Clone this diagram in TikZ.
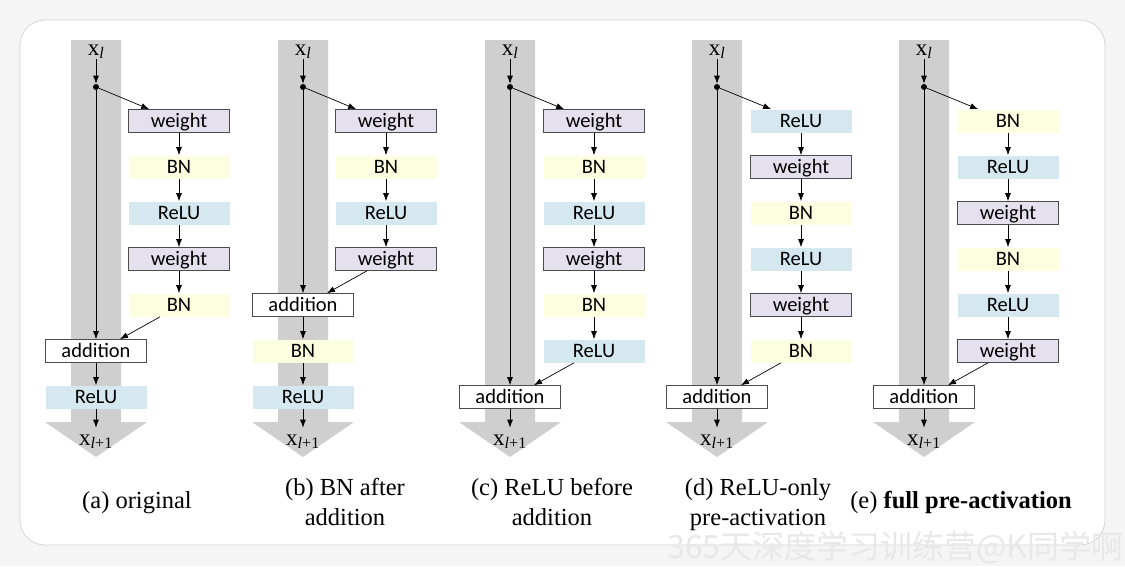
\documentclass[tikz,border=0pt]{standalone}
\usepackage{fontspec}
\setmainfont{Liberation Serif}
\newfontfamily\boxfont{Carlito}
\newfontfamily\cjkfont{Noto Sans CJK SC}
\usetikzlibrary{arrows.meta}
\definecolor{wtfill}{HTML}{E5E0EE}
\definecolor{bnfill}{HTML}{FDFDE0}
\definecolor{relufill}{HTML}{D6E8EF}
\definecolor{bandgray}{HTML}{CFCFCF}
\tikzset{
  blk/.style={minimum width=101pt, minimum height=23pt, inner sep=0pt,
    text height=16.5pt, text depth=3.5pt,
    font=\boxfont\fontsize{20.5}{20.5}\selectfont},
  wt/.style={blk, fill=wtfill, draw=black!70},
  bn/.style={blk, fill=bnfill},
  relu/.style={blk, fill=relufill},
  add/.style={blk, fill=white, draw=black!70},
  lbl/.style={anchor=base, inner sep=0pt, text height=17pt, text depth=4pt,
    font=\fontsize{23}{23}\selectfont},
  capt/.style={align=center, font=\fontsize{24.5}{30}\selectfont},
  dot/.style={circle, fill=black, inner sep=0pt, minimum size=6pt},
}
\begin{document}
\begin{tikzpicture}[x=1pt, y=-1pt, >={Latex[length=8pt,width=6pt]}, line width=0.7pt]
  \useasboundingbox (0,0) rectangle (1125,566);
  \fill[gray!8] (0,0) rectangle (1125,566);
  \draw[gray!35, fill=white, rounded corners=25pt] (20,20) rectangle (1105,545);
  \node[anchor=base west, inner sep=0pt, text=gray!18,
    font=\cjkfont\fontsize{32}{32}\selectfont] (wm) at (667,558) {365天深度学习训练营@K同学啊};

  % grey identity paths
  \foreach \c in {96,303,510,717,924}
    \fill[bandgray] (\c-25,40) rectangle (\c+25,422)
      (\c-51,422) -- (\c+51,422) -- (\c,457) -- cycle;

  % (a) original
  \node[lbl] (xa) at (96,55) {x\textsubscript{\textit{l}}};
  \node[dot] (da) at (96,87) {};
  \node[wt] (a1) at (179,121) {weight};
  \node[bn] (a2) at (179,167) {BN};
  \node[relu] (a3) at (179,213) {ReLU};
  \node[wt] (a4) at (179,259) {weight};
  \node[bn] (a5) at (179,305) {BN};
  \node[add] (a6) at (96,351) {addition};
  \node[relu] (a7) at (96,397) {ReLU};
  \node[lbl] (ya) at (96,445) {x\textsubscript{\textit{l}+1}};
  \draw[->] (xa) -- (da);
  \draw[->] (da) -- (a6);
  \draw[->] (da) -- ([xshift=21pt]a1.north west);
  \draw[->] (a1) -- (a2);
  \draw[->] (a2) -- (a3);
  \draw[->] (a3) -- (a4);
  \draw[->] (a4) -- (a5);
  \draw[->] ([xshift=-19pt]a5.south) -- ([xshift=24pt]a6.north);
  \draw[->] (a6) -- (a7);
  \draw[->] (a7) -- (ya);
  \node[capt] (ca) at (137,503) {(a) original};

  % (b) BN after addition
  \node[lbl] (xb) at (303,55) {x\textsubscript{\textit{l}}};
  \node[dot] (db) at (303,87) {};
  \node[wt] (b1) at (386,121) {weight};
  \node[bn] (b2) at (386,167) {BN};
  \node[relu] (b3) at (386,213) {ReLU};
  \node[wt] (b4) at (386,259) {weight};
  \node[add] (b5) at (303,305) {addition};
  \node[bn] (b6) at (303,351) {BN};
  \node[relu] (b7) at (303,397) {ReLU};
  \node[lbl] (yb) at (303,445) {x\textsubscript{\textit{l}+1}};
  \draw[->] (xb) -- (db);
  \draw[->] (db) -- (b5);
  \draw[->] (db) -- ([xshift=21pt]b1.north west);
  \draw[->] (b1) -- (b2);
  \draw[->] (b2) -- (b3);
  \draw[->] (b3) -- (b4);
  \draw[->] ([xshift=-19pt]b4.south) -- ([xshift=24pt]b5.north);
  \draw[->] (b5) -- (b6);
  \draw[->] (b6) -- (b7);
  \draw[->] (b7) -- (yb);
  \node[capt] (cb) at (345,502) {(b) BN after\\addition};

  % (c) ReLU before addition
  \node[lbl] (xc) at (510,55) {x\textsubscript{\textit{l}}};
  \node[dot] (dc) at (510,87) {};
  \node[wt] (c1) at (594,121) {weight};
  \node[bn] (c2) at (594,167) {BN};
  \node[relu] (c3) at (594,213) {ReLU};
  \node[wt] (c4) at (594,259) {weight};
  \node[bn] (c5) at (594,305) {BN};
  \node[relu] (c6) at (594,351) {ReLU};
  \node[add] (c7) at (510,397) {addition};
  \node[lbl] (yc) at (510,445) {x\textsubscript{\textit{l}+1}};
  \draw[->] (xc) -- (dc);
  \draw[->] (dc) -- (c7);
  \draw[->] (dc) -- ([xshift=21pt]c1.north west);
  \draw[->] (c1) -- (c2);
  \draw[->] (c2) -- (c3);
  \draw[->] (c3) -- (c4);
  \draw[->] (c4) -- (c5);
  \draw[->] (c5) -- (c6);
  \draw[->] ([xshift=-20pt]c6.south) -- ([xshift=24pt]c7.north);
  \draw[->] (c7) -- (yc);
  \node[capt] (cc) at (552,502) {(c) ReLU before\\addition};

  % (d) ReLU-only pre-activation
  \node[lbl] (xd) at (717,55) {x\textsubscript{\textit{l}}};
  \node[dot] (dd) at (717,87) {};
  \node[relu] (d1) at (801,121) {ReLU};
  \node[wt] (d2) at (801,167) {weight};
  \node[bn] (d3) at (801,213) {BN};
  \node[relu] (d4) at (801,259) {ReLU};
  \node[wt] (d5) at (801,305) {weight};
  \node[bn] (d6) at (801,351) {BN};
  \node[add] (d7) at (717,397) {addition};
  \node[lbl] (yd) at (717,445) {x\textsubscript{\textit{l}+1}};
  \draw[->] (xd) -- (dd);
  \draw[->] (dd) -- (d7);
  \draw[->] (dd) -- ([xshift=21pt]d1.north west);
  \draw[->] (d1) -- (d2);
  \draw[->] (d2) -- (d3);
  \draw[->] (d3) -- (d4);
  \draw[->] (d4) -- (d5);
  \draw[->] (d5) -- (d6);
  \draw[->] ([xshift=-20pt]d6.south) -- ([xshift=24pt]d7.north);
  \draw[->] (d7) -- (yd);
  \node[capt] (cd) at (758,505) {(d) ReLU-only\\pre-activation};

  % (e) full pre-activation
  \node[lbl] (xe) at (924,55) {x\textsubscript{\textit{l}}};
  \node[dot] (de) at (924,87) {};
  \node[bn] (e1) at (1008,121) {BN};
  \node[relu] (e2) at (1008,167) {ReLU};
  \node[wt] (e3) at (1008,213) {weight};
  \node[bn] (e4) at (1008,259) {BN};
  \node[relu] (e5) at (1008,305) {ReLU};
  \node[wt] (e6) at (1008,351) {weight};
  \node[add] (e7) at (924,397) {addition};
  \node[lbl] (ye) at (924,445) {x\textsubscript{\textit{l}+1}};
  \draw[->] (xe) -- (de);
  \draw[->] (de) -- (e7);
  \draw[->] (de) -- ([xshift=21pt]e1.north west);
  \draw[->] (e1) -- (e2);
  \draw[->] (e2) -- (e3);
  \draw[->] (e3) -- (e4);
  \draw[->] (e4) -- (e5);
  \draw[->] (e5) -- (e6);
  \draw[->] ([xshift=-20pt]e6.south) -- ([xshift=24pt]e7.north);
  \draw[->] (e7) -- (ye);
  \node[capt] (ce) at (961,502) {(e) \textbf{full pre-activation}};
\end{tikzpicture}
\end{document}
